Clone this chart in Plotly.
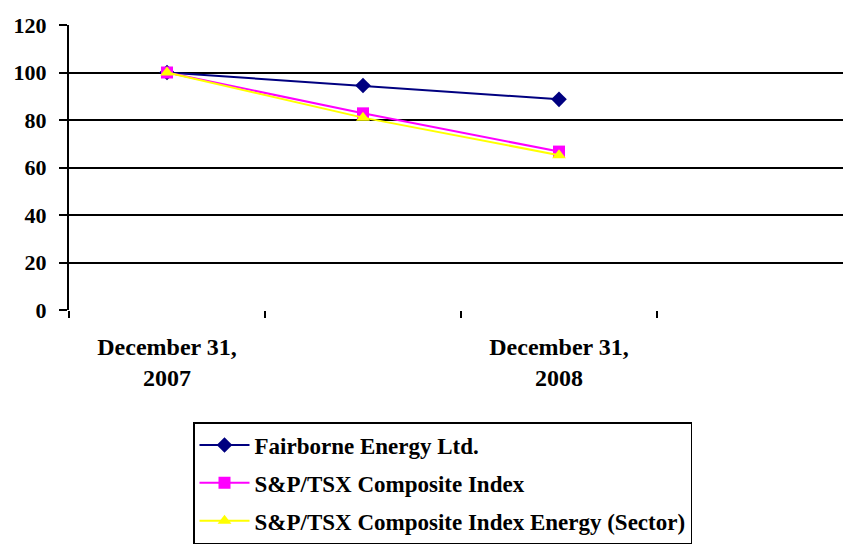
import plotly.graph_objects as go

categories = ["December 31,<br>2007", "", "December 31,<br>2008", ""]
x_pos = [0, 1, 2]
fairborne = [100, 94.5, 88.7]
sptsx = [100, 82.8, 66.7]
energy = [100, 81.0, 65.2]
series_names = ["Fairborne Energy Ltd.", "S&P/TSX Composite Index",
                "S&P/TSX Composite Index Energy (Sector)"]
y_ticks = [0, 20, 40, 60, 80, 100, 120]

FONT = "Liberation Serif, Times New Roman, serif"
W, H = 843, 544

fig = go.Figure()
styles = [
    dict(color="#000080", symbol="diamond"),
    dict(color="#FF00FF", symbol="square"),
    dict(color="#FFFF00", symbol="triangle-up"),
]
for i, (name, vals, st) in enumerate(zip(series_names, [fairborne, sptsx, energy], styles)):
    fig.add_trace(go.Scatter(
        x=x_pos, y=vals, name=name, mode="lines+markers",
        line=dict(color=st["color"], width=2),
        marker=dict(color=st["color"], symbol=st["symbol"], size=12),
        legendgroup=f"g{i}",
    ))

fig.update_layout(
    width=W, height=H,
    margin=dict(l=69, r=0, t=25, b=234, autoexpand=False),
    paper_bgcolor="white", plot_bgcolor="white",
    font=dict(family=FONT, size=21, color="black"),
    showlegend=True,
    legend=dict(
        xref="container", yref="container",
        x=193 / W, xanchor="left",
        y=1 - 422 / H, yanchor="top",
        bordercolor="black", borderwidth=1.5,
        font=dict(family=FONT, size=23, color="black", weight="bold"),
        itemwidth=50, tracegroupgap=5, traceorder="grouped",
        bgcolor="white",
    ),
    xaxis=dict(
        range=[-0.5, 3.449], automargin=False,
        tickmode="array", tickvals=[0, 1, 2, 3], ticktext=categories,
        ticks="", showgrid=False, zeroline=False,
        showline=False, ticklabelstandoff=20,
        tickfont=dict(family=FONT, size=24, color="black", weight="bold"),
        minor=dict(tickmode="array", tickvals=[-0.5, 0.5, 1.5, 2.5],
                   ticks="outside", ticklen=7, tickwidth=1.5, tickcolor="black",
                   showgrid=False),
    ),
    yaxis=dict(
        range=[0, 120], tickvals=y_ticks, automargin=False,
        showgrid=True, gridcolor="black", gridwidth=1.5,
        zeroline=False, showline=True, linecolor="black", linewidth=2,
        ticks="outside", ticklen=8, tickwidth=1.5, tickcolor="black",
        ticklabelstandoff=8,
        tickfont=dict(family=FONT, size=22, color="black", weight="bold"),
    ),
)

fig.write_html(
    "out.html",
    config={"displayModeBar": False},
    post_script="document.body.style.margin='0';document.body.style.overflow='hidden';",
)
